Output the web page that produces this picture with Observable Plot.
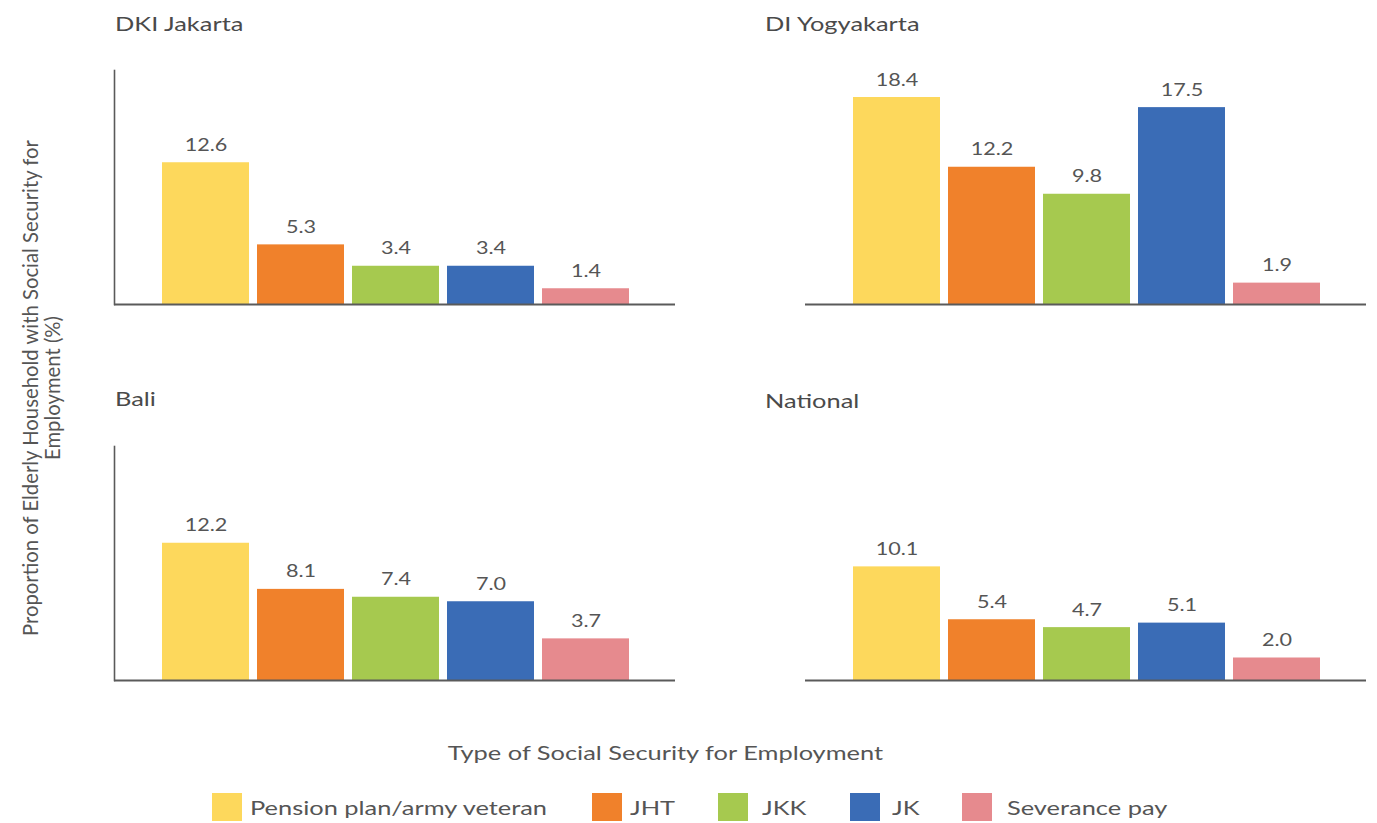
<!DOCTYPE html>
<html>
<head>
<meta charset="utf-8">
<script src="https://cdn.jsdelivr.net/npm/d3@7"></script>
<script src="https://cdn.jsdelivr.net/npm/@observablehq/plot@0.6"></script>
<style>
  html, body { margin: 0; padding: 0; background: #fff; }
  #page { position: relative; width: 1377px; height: 823px; overflow: hidden; font-family: Lato, "Open Sans", sans-serif; color: #555; }
  .abs { position: absolute; white-space: nowrap; }
  .wide { display: inline-block; transform: scaleX(1.27); transform-origin: left center; }
  .panel-title { font-size: 20px; line-height: 20px; color: #4a4a4a; }
  .ylabel { font-size: 20.3px; line-height: 22px; text-align: center; color: #555; transform: rotate(-90deg); transform-origin: center center; }
  .xlabel { font-size: 20px; line-height: 20px; color: #555; }
  .xlabel .wide { transform-origin: center center; }
  .swatch { width: 30px; height: 28px; }
  .legend-text { font-size: 20px; line-height: 28px; color: #555; }
  svg { overflow: visible; }
</style>
</head>
<body>
<div id="page"></div>
<script>
// Social security categories, in bar order
const types = ["Pension plan/army veteran", "JHT", "JKK", "JK", "Severance pay"];
const typeColors = ["#FDD85C", "#F0812B", "#A6C94F", "#3A6CB6", "#E68A8E"];

// Regions shown, one panel each
const regions = ["DKI Jakarta", "DI Yogyakarta", "Bali", "National"];

// Share of elderly households with each type of coverage (%)
const jakartaValues = [12.6, 5.3, 3.4, 3.4, 1.4];
const yogyakartaValues = [18.4, 12.2, 9.8, 17.5, 1.9];
const baliValues = [12.2, 8.1, 7.4, 7.0, 3.7];
const nationalValues = [10.1, 5.4, 4.7, 5.1, 2.0];

const seriesByRegion = [jakartaValues, yogyakartaValues, baliValues, nationalValues];

const yLabelLines = ["Proportion of Elderly Household with Social Security for", "Employment (%)"];
const xLabel = "Type of Social Security for Employment";

const page = document.getElementById("page");
const textStretch = 1.27;

// panel placement: [svg left, svg top, title left, title top, draw y axis line]
const panelBoxes = [
  [100, 60, 115, 13, true],
  [791, 60, 765, 13, false],
  [100, 436, 115, 388, true],
  [791, 436, 765, 390, false]
];

function stretchSvgText(svg) {
  svg.querySelectorAll('g[aria-label="text"] text').forEach(t => {
    const xa = t.getAttribute("x"), ya = t.getAttribute("y");
    let tr = t.getAttribute("transform") || "";
    const xn = xa == null ? 0 : +xa;
    const numericY = ya == null || !isNaN(+ya);
    if (xa != null && !isNaN(xn)) {
      const yn = numericY && ya != null ? +ya : 0;
      tr = `translate(${xn},${yn}) ` + tr;
      t.removeAttribute("x");
      if (numericY) t.removeAttribute("y");
    }
    t.setAttribute("transform", (tr + ` scale(${textStretch},1)`).trim());
  });
}

regions.forEach((region, r) => {
  const [left, top, titleLeft, titleTop, withAxis] = panelBoxes[r];
  const rows = types.map((type, i) => ({type, value: seriesByRegion[r][i]}));

  const marks = [
    Plot.barY(rows, {x: "type", y: "value", fill: "type"}),
    Plot.text(rows, {
      x: "type", y: "value", text: d => d.value.toFixed(1),
      lineAnchor: "bottom", dy: -12, fontSize: 17, fill: "#555"
    }),
    Plot.ruleY([0], {stroke: "#5a5a5a", strokeWidth: 2})
  ];
  if (withAxis) marks.push(Plot.frame({anchor: "left", stroke: "#5a5a5a", strokeWidth: 1.6}));

  const chart = Plot.plot({
    width: 600, height: 250,
    marginLeft: 14, marginRight: 25, marginTop: 10, marginBottom: 6,
    style: {fontFamily: "Lato, 'Open Sans', sans-serif", background: "transparent", overflow: "visible"},
    x: {domain: types, padding: 0.08, insetLeft: 38, insetRight: 36, axis: null},
    y: {domain: [0, 20.8], axis: null},
    color: {domain: types, range: typeColors},
    marks
  });
  stretchSvgText(chart);
  chart.style.position = "absolute";
  chart.style.left = left + "px";
  chart.style.top = top + "px";
  page.appendChild(chart);

  const title = document.createElement("div");
  title.className = "abs panel-title";
  title.style.left = titleLeft + "px";
  title.style.top = titleTop + "px";
  title.innerHTML = `<span class="wide">${region}</span>`;
  page.appendChild(title);
});

// rotated y-axis title
const yl = document.createElement("div");
yl.className = "abs ylabel";
yl.style.width = "600px";
yl.style.height = "44px";
yl.style.left = (41 - 300) + "px";
yl.style.top = (388 - 22) + "px";
yl.innerHTML = yLabelLines.join("<br>");
page.appendChild(yl);

// x-axis title
const xl = document.createElement("div");
xl.className = "abs xlabel";
xl.style.left = "0px";
xl.style.width = "1330px";
xl.style.textAlign = "center";
xl.style.top = "742px";
xl.innerHTML = `<span class="wide">${xLabel}</span>`;
page.appendChild(xl);

// legend
const swatchLeft = [212, 592, 718, 850, 962];
const labelLeft = [250, 630, 762, 892, 1007];
types.forEach((type, i) => {
  const sw = document.createElement("div");
  sw.className = "abs swatch";
  sw.style.left = swatchLeft[i] + "px";
  sw.style.top = "793px";
  sw.style.background = typeColors[i];
  page.appendChild(sw);
  const lb = document.createElement("div");
  lb.className = "abs legend-text";
  lb.style.left = labelLeft[i] + "px";
  lb.style.top = "793px";
  lb.innerHTML = `<span class="wide">${type}</span>`;
  page.appendChild(lb);
});
</script>
</body>
</html>
